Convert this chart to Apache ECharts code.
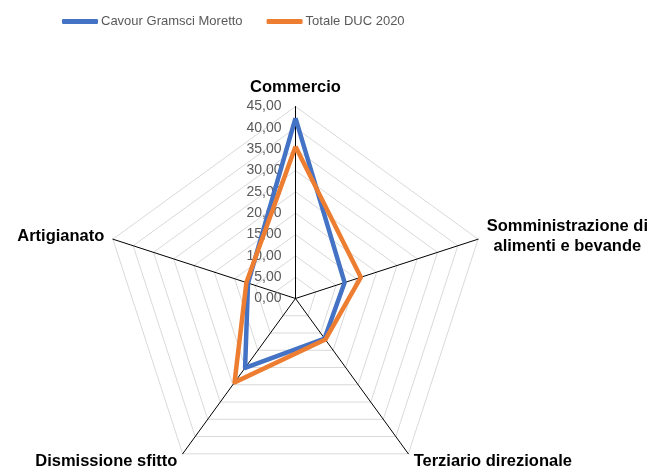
<!DOCTYPE html>
<html>
<head>
<meta charset="utf-8">
<script src="https://cdn.jsdelivr.net/npm/echarts@6/dist/echarts.min.js"></script>
<style>
  html, body { margin: 0; padding: 0; background: #fff; }
  #chart { width: 659px; height: 475px; }
</style>
</head>
<body>
<div id="chart"></div>
<script>
  // radar runs counter-clockwise, so list the axes from the top going left
  var indicators = ['Commercio', 'Artigianato', 'Dismissione sfitto', 'Terziario direzionale', 'Somministrazione di\nalimenti e bevande'];
  var seriesNames = ['Cavour Gramsci Moretto', 'Totale DUC 2020'];
  var cavourValues = [42.3, 11.7, 20.1, 11.6, 12.1];
  var totaleValues = [35.6, 12.1, 24.3, 11.9, 16.1];
  var axisMax = 45;

  var font = '"Liberation Sans", Arial, sans-serif';
  var chart = echarts.init(document.getElementById('chart'));

  chart.setOption({
    animation: false,
    color: ['#4472C4', '#ED7D31'],
    legend: {
      top: 10,
      left: 57,
      itemWidth: 36,
      itemHeight: 5,
      itemGap: 24,
      icon: 'roundRect',
      textStyle: { color: '#595959', fontSize: 13, fontFamily: font, padding: [0, 0, 0, -2] },
      data: seriesNames,
    },
    radar: {
      center: [295.5, 298.5],
      radius: 192,
      startAngle: 90,
      splitNumber: 9,
      shape: 'polygon',
      nameGap: 9,
      axisName: {
        color: '#000',
        fontSize: 16.5,
        fontWeight: 'bold',
        fontFamily: font,
        lineHeight: 20,
        formatter: function (name) {
          // centre each line of the two-line label inside its block
          return name.split('\n').map(function (line) { return '{c|' + line + '}'; }).join('\n');
        },
        rich: {
          c: {
            align: 'center',
            color: '#000',
            fontSize: 16.5,
            fontWeight: 'bold',
            fontFamily: font,
            lineHeight: 20,
          },
        },
      },
      axisLine: { lineStyle: { color: '#000', width: 1 } },
      splitLine: { lineStyle: { color: '#d9d9d9', width: 1 } },
      splitArea: { show: false },
      axisTick: { show: false },
      axisLabel: { show: false },
      indicator: indicators.map(function (name, i) {
        var ind = { name: name, min: 0, max: axisMax };
        if (i === 0) {
          ind.axisLabel = {
            show: true,
            color: '#595959',
            fontSize: 14,
            fontFamily: font,
            margin: 14,
            formatter: function (v) { return v.toFixed(2).replace('.', ','); },
          };
        }
        return ind;
      }),
    },
    series: [
      {
        type: 'radar',
        symbol: 'none',
        data: [
          { name: seriesNames[0], value: cavourValues, lineStyle: { color: '#4472C4', width: 4.5 } },
          { name: seriesNames[1], value: totaleValues, lineStyle: { color: '#ED7D31', width: 4.5 } },
        ],
      },
    ],
  });
</script>
</body>
</html>
